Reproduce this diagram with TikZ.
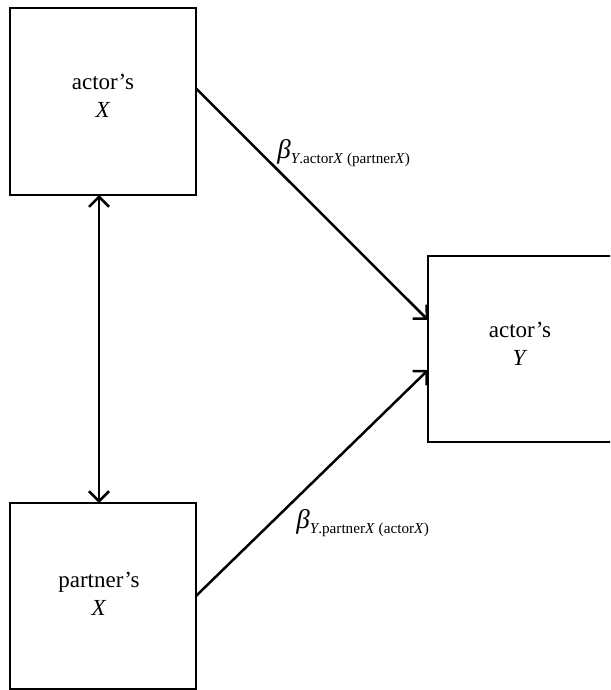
\documentclass[tikz,border=0pt]{standalone}
\usepackage{fontspec}
\setmainfont{Liberation Serif}
\usetikzlibrary{arrows.meta,calc}
\tikzset{
  box/.style={draw, line width=1.25pt, inner sep=0pt, outer sep=0pt},
  boxtext/.style={align=center, font=\fontsize{11.5}{14}\selectfont, inner sep=0pt},
  arr/.style={line width=1.25pt, -{Straight Barb[length=5pt,width=10pt,line width=1.25pt]}},
  darr/.style={line width=1.25pt, {Straight Barb[length=5pt,width=10pt,line width=1.25pt]}-{Straight Barb[length=5pt,width=10pt,line width=1.25pt]}},
  coef/.style={anchor=base west, inner sep=0pt}
}
\newcommand{\betalab}[1]{{\fontsize{13.5}{13.5}\selectfont\itshape β}\raisebox{-2.6pt}{\fontsize{7.6}{8}\selectfont #1}}
\begin{document}
\begin{tikzpicture}[x=0.5pt,y=-0.5pt]
\useasboundingbox (0,0) rectangle (610,690);
\clip (0,0) rectangle (610,690);
% boxes
\node[box, minimum width=93pt, minimum height=93.5pt] (tl) at (103,101.5) {};
\node[box, minimum width=93pt, minimum height=93pt] (bl) at (103,596) {};
\node[box, minimum width=110pt, minimum height=93pt] (ry) at (538,349) {};
% texts
\node[boxtext] (tlt) at (103,96) {actor’s\\\textit{X}};
\node[boxtext] (blt) at (99,594) {partner’s\\\textit{X}};
\node[boxtext] (ryt) at (520,344) {actor’s\\\textit{Y}};
% connectors
\coordinate (va) at (99,350);
\draw[darr] (va |- tl.south) -- (va |- bl.north);
\draw[arr] ($(tl.north east)!0.43!(tl.south east)$) -- ($(ry.north west)!0.344!(ry.south west)$);
\draw[arr] (bl.east) -- ($(ry.north west)!0.613!(ry.south west)$);
% labels
\node[coef] (b1) at (277,158) {\betalab{\textit{Y}.actor\textit{X} (partner\textit{X})}};
\node[coef] (b2) at (296,528) {\betalab{\textit{Y}.partner\textit{X} (actor\textit{X})}};
\end{tikzpicture}
\end{document}
